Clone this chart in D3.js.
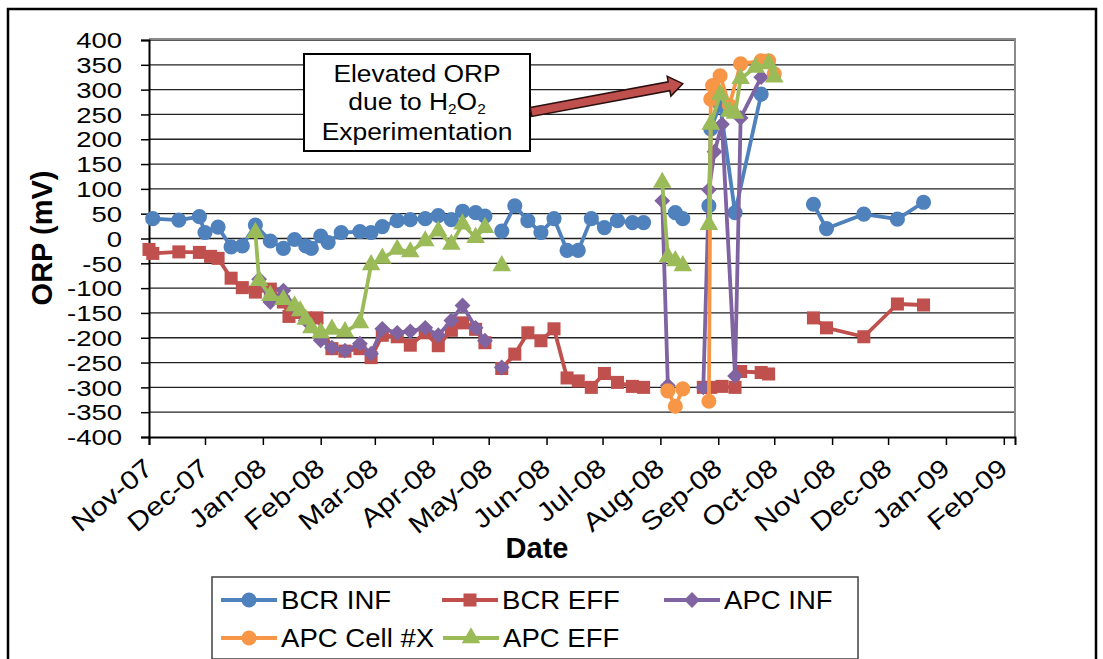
<!DOCTYPE html>
<html>
<head>
<meta charset="utf-8">
<script src="https://cdn.jsdelivr.net/npm/d3@7"></script>
<style>
  body { margin: 0; background: #fff; }
  svg { display: block; }
</style>
</head>
<body>
<svg id="chart" width="1103" height="659"></svg>
<script>
// ---- data ----------------------------------------------------------
const seriesNames  = ["BCR INF", "BCR EFF", "APC INF", "APC Cell #X", "APC EFF"];
const seriesColors = ["#4F81BD", "#C0504D", "#8064A2", "#F79646", "#9BBB59"];
const seriesShapes = ["circle", "square", "diamond", "circle", "triangle"];

const yTickValues = [-400, -350, -300, -250, -200, -150, -100, -50, 0, 50, 100, 150, 200, 250, 300, 350, 400];
const monthTicks = ["2007-11-01", "2007-12-01", "2008-01-01", "2008-02-01", "2008-03-01", "2008-04-01",
  "2008-05-01", "2008-06-01", "2008-07-01", "2008-08-01", "2008-09-01", "2008-10-01",
  "2008-11-01", "2008-12-01", "2009-01-01", "2009-02-01"];

// null entries are sampling dates with no reading (line breaks there)
const bcrInf = [
  ["2007-11-03", 40], ["2007-11-17", 37], ["2007-11-28", 44], ["2007-12-01", 12], ["2007-12-08", 23],
  ["2007-12-15", -17], ["2007-12-21", -15], ["2007-12-28", 27], ["2008-01-05", -5], ["2008-01-12", -20],
  ["2008-01-18", -2], ["2008-01-24", -15], ["2008-01-27", -20], ["2008-02-01", 5], ["2008-02-05", -8],
  ["2008-02-12", 12], ["2008-02-22", 14], ["2008-02-28", 12], ["2008-03-05", 24], ["2008-03-13", 36],
  ["2008-03-20", 38], ["2008-03-28", 40], ["2008-04-04", 46], ["2008-04-11", 38], ["2008-04-17", 55],
  ["2008-04-24", 52], ["2008-04-29", 45], ["2008-05-02", null], ["2008-05-08", 15], ["2008-05-15", 66],
  ["2008-05-22", 36], ["2008-05-29", 12], ["2008-06-05", 40], ["2008-06-12", -24], ["2008-06-18", -24],
  ["2008-06-25", 40], ["2008-07-02", 22], ["2008-07-09", 36], ["2008-07-17", 32], ["2008-07-23", 32],
  ["2008-08-02", null], ["2008-08-09", 52], ["2008-08-13", 40], ["2008-08-24", null], ["2008-08-27", 66],
  ["2008-08-28", 221], ["2008-09-02", 270], ["2008-09-10", 52], ["2008-09-24", 291], ["2008-10-01", null],
  ["2008-10-22", 69], ["2008-10-29", 20], ["2008-11-18", 49], ["2008-12-06", 39], ["2008-12-20", 73]
];

const bcrEff = [
  ["2007-11-01", -22], ["2007-11-03", -30], ["2007-11-17", -27], ["2007-11-28", -28], ["2007-12-04", -36],
  ["2007-12-08", -40], ["2007-12-15", -80], ["2007-12-21", -99], ["2007-12-28", -108], ["2008-01-05", -102],
  ["2008-01-12", -128], ["2008-01-15", -157], ["2008-01-24", -160], ["2008-01-30", -160], ["2008-02-07", -222],
  ["2008-02-14", -227], ["2008-02-22", -222], ["2008-02-28", -240], ["2008-03-05", -195], ["2008-03-13", -198],
  ["2008-03-20", -215], ["2008-03-28", -190], ["2008-04-04", -216], ["2008-04-11", -185], ["2008-04-17", -170],
  ["2008-04-24", -183], ["2008-04-29", -210], ["2008-05-02", null], ["2008-05-08", -262], ["2008-05-15", -233],
  ["2008-05-22", -190], ["2008-05-29", -206], ["2008-06-05", -182], ["2008-06-12", -281], ["2008-06-18", -287],
  ["2008-06-25", -300], ["2008-07-02", -272], ["2008-07-09", -290], ["2008-07-17", -298], ["2008-07-23", -300],
  ["2008-08-02", null], ["2008-08-24", -300], ["2008-08-28", -300], ["2008-09-03", -298], ["2008-09-10", -300],
  ["2008-09-13", -268], ["2008-09-24", -270], ["2008-09-28", -273], ["2008-10-01", null], ["2008-10-22", -160],
  ["2008-10-29", -180], ["2008-11-18", -198], ["2008-12-06", -132], ["2008-12-20", -134]
];

const apcInf = [
  ["2007-12-30", -82], ["2008-01-05", -128], ["2008-01-12", -105], ["2008-01-18", -138], ["2008-01-24", -165],
  ["2008-02-01", -205], ["2008-02-07", -220], ["2008-02-14", -226], ["2008-02-22", -212], ["2008-02-28", -232],
  ["2008-03-05", -182], ["2008-03-13", -190], ["2008-03-20", -187], ["2008-03-28", -180], ["2008-04-04", -195],
  ["2008-04-11", -165], ["2008-04-17", -135], ["2008-04-24", -180], ["2008-04-29", -206], ["2008-05-02", null],
  ["2008-05-08", -260], ["2008-05-15", null], ["2008-08-02", 76], ["2008-08-05", -296], ["2008-08-13", null],
  ["2008-08-24", -300], ["2008-08-27", 98], ["2008-08-30", 175], ["2008-09-03", 230], ["2008-09-10", -277],
  ["2008-09-13", 243], ["2008-09-24", 325]
];

const apcCell = [
  ["2008-08-05", -307], ["2008-08-09", -338], ["2008-08-13", -303], ["2008-08-24", null], ["2008-08-27", -328],
  ["2008-08-28", 281], ["2008-08-29", 308], ["2008-09-02", 328], ["2008-09-07", 268], ["2008-09-13", 352],
  ["2008-09-24", 358], ["2008-09-28", 358], ["2008-10-01", 332]
];

const apcEff = [
  ["2007-12-28", 12], ["2007-12-30", -85], ["2008-01-05", -115], ["2008-01-12", -123], ["2008-01-18", -136],
  ["2008-01-21", -146], ["2008-01-24", -163], ["2008-01-27", -180], ["2008-02-01", -190], ["2008-02-07", -183],
  ["2008-02-14", -188], ["2008-02-22", -170], ["2008-02-28", -53], ["2008-03-05", -40], ["2008-03-13", -22],
  ["2008-03-20", -27], ["2008-03-28", -5], ["2008-04-04", 15], ["2008-04-11", -12], ["2008-04-17", 29],
  ["2008-04-24", 2], ["2008-04-29", 22], ["2008-05-02", null], ["2008-05-08", -55], ["2008-05-15", null],
  ["2008-08-02", 113], ["2008-08-05", -37], ["2008-08-09", -45], ["2008-08-13", -55], ["2008-08-24", null],
  ["2008-08-27", 28], ["2008-08-28", 230], ["2008-09-02", 290], ["2008-09-07", 256], ["2008-09-10", 252],
  ["2008-09-13", 322], ["2008-09-21", 345], ["2008-09-28", 352], ["2008-10-01", 325]
];

const seriesData = [bcrInf, bcrEff, apcInf, apcCell, apcEff];

// ---- layout --------------------------------------------------------
const FONT = `"Liberation Sans", Arial, sans-serif`;
const parse = d3.timeParse("%Y-%m-%d");
const fmt = d3.timeFormat("%b-%y");
const svg = d3.select("#chart").attr("font-family", FONT);
const plot = { left: 149, right: 1015, top: 40, bottom: 437 };

const x = d3.scaleTime()
  .domain([parse("2007-11-01"), parse("2009-02-07")])
  .range([plot.left, plot.right]);
const y = d3.scaleLinear().domain([-400, 400]).range([plot.bottom, plot.top]);

// outer frame
svg.append("rect").attr("x", 8).attr("y", 9).attr("width", 1088).attr("height", 670)
  .attr("fill", "#fff").attr("stroke", "#000").attr("stroke-width", 2.5);

// horizontal gridlines
svg.append("g").selectAll("line").data(yTickValues.filter(v => v > -400)).join("line")
  .attr("x1", plot.left).attr("x2", plot.right)
  .attr("y1", d => y(d)).attr("y2", d => y(d))
  .attr("stroke", "#222").attr("stroke-width", 1.3);

// plot area border (top / right)
svg.append("path")
  .attr("d", `M${plot.left},${plot.top - 1}H${plot.right}V${plot.bottom}`)
  .attr("fill", "none").attr("stroke", "#8a8a8a").attr("stroke-width", 2);

// y axis
const yAxis = d3.axisLeft(y).tickValues(yTickValues).tickSize(8).tickFormat(d3.format("d"));
const gy = svg.append("g").attr("transform", `translate(${plot.left},0)`).call(yAxis)
  .attr("font-family", FONT);
gy.select(".domain").attr("stroke", "#000").attr("stroke-width", 2);
gy.selectAll(".tick line").attr("stroke", "#000").attr("stroke-width", 1.5);
gy.selectAll(".tick text").remove();
gy.selectAll(".tick").append("text")
  .attr("fill", "#000")
  .attr("text-anchor", "end").attr("dy", "0.35em")
  .attr("transform", "translate(-27,0) scale(1.25,1)")
  .attr("font-size", 22)
  .text(d => d);

// x axis
const monthDates = monthTicks.map(parse);
const xAxis = d3.axisBottom(x).tickValues(monthDates).tickSize(8).tickFormat("");
const gx = svg.append("g").attr("transform", `translate(0,${plot.bottom})`).call(xAxis)
  .attr("font-family", FONT);
gx.select(".domain").attr("stroke", "#000").attr("stroke-width", 2);
gx.selectAll(".tick line").attr("stroke", "#000").attr("stroke-width", 1.5);
gx.selectAll(".tick").append("text")
  .attr("fill", "#000")
  .attr("text-anchor", "end")
  .attr("transform", "translate(5,34) rotate(-40) scale(1.15,1)")
  .attr("font-size", 26)
  .text(d => fmt(d));

// axis titles
svg.append("text").attr("x", 537).attr("y", 558).attr("text-anchor", "middle")
  .attr("font-size", 29).attr("font-weight", "bold").text("Date");
svg.append("text").attr("transform", "translate(52,238) rotate(-90)").attr("text-anchor", "middle")
  .attr("font-size", 29).attr("font-weight", "bold").text("ORP (mV)");

// ---- series --------------------------------------------------------
function markerPath(shape) {
  if (shape === "circle") return d3.symbol(d3.symbolCircle, 180)();
  if (shape === "square") return d3.symbol(d3.symbolSquare, 170)();
  if (shape === "diamond") return d3.symbol(d3.symbolSquare, 125)();
  return d3.symbol(d3.symbolTriangle, 150)();
}
function markerTransform(shape, px, py) {
  return shape === "diamond" ? `translate(${px},${py}) rotate(45)` : `translate(${px},${py})`;
}

const line = d3.line()
  .defined(d => d[1] !== null)
  .x(d => x(parse(d[0])))
  .y(d => y(d[1]));

seriesData.forEach((data, i) => {
  const g = svg.append("g");
  g.append("path").datum(data).attr("d", line)
    .attr("fill", "none").attr("stroke", seriesColors[i]).attr("stroke-width", 3.8)
    .attr("stroke-linejoin", "round");
  g.selectAll("path.m").data(data.filter(d => d[1] !== null)).join("path")
    .attr("class", "m")
    .attr("d", markerPath(seriesShapes[i]))
    .attr("transform", d => markerTransform(seriesShapes[i], x(parse(d[0])), y(d[1])))
    .attr("fill", seriesColors[i]);
});

// ---- annotation ----------------------------------------------------
const box = { x: 304, y: 54, w: 226, h: 97 };
const note = svg.append("g");
note.append("rect").attr("x", box.x).attr("y", box.y).attr("width", box.w).attr("height", box.h)
  .attr("fill", "#fff").attr("stroke", "#000").attr("stroke-width", 2);
const cx = box.x + box.w / 2;
note.append("text").attr("text-anchor", "middle").attr("font-size", 24)
  .attr("transform", `translate(${cx},82) scale(1.1,1)`).text("Elevated ORP");
const t2 = note.append("text").attr("text-anchor", "middle").attr("font-size", 24)
  .attr("transform", `translate(${cx},110) scale(1.1,1)`);
t2.append("tspan").text("due to H");
t2.append("tspan").attr("font-size", 14).attr("dy", 4).text("2");
t2.append("tspan").attr("dy", -4).text("O");
t2.append("tspan").attr("font-size", 14).attr("dy", 4).text("2");
note.append("text").attr("text-anchor", "middle").attr("font-size", 24)
  .attr("transform", `translate(${cx},140) scale(1.1,1)`).text("Experimentation");

// block arrow pointing at the H2O2 readings
(function () {
  const x0 = box.x + box.w + 1, y0 = 112;
  const x1 = x(parse("2008-08-13")), y1 = y(312);
  const ang = Math.atan2(y1 - y0, x1 - x0);
  const len = Math.hypot(x1 - x0, y1 - y0);
  const sw = 4.5, hw = 10, hl = 14;
  const pts = [[0, -sw], [len - hl, -sw], [len - hl, -hw], [len, 0], [len - hl, hw], [len - hl, sw], [0, sw]];
  svg.append("polygon")
    .attr("points", pts.map(p => p.join(",")).join(" "))
    .attr("transform", `translate(${x0},${y0}) rotate(${ang * 180 / Math.PI})`)
    .attr("fill", "#C0504D").attr("stroke", "#2b1010").attr("stroke-width", 1.5);
})();

// ---- legend --------------------------------------------------------
const legend = svg.append("g");
legend.append("rect").attr("x", 212).attr("y", 577).attr("width", 646).attr("height", 82)
  .attr("fill", "#fff").attr("stroke", "#404040").attr("stroke-width", 1.5);
const legendPos = [[221, 600], [442, 600], [664, 600], [221, 638], [443, 638]];
seriesNames.forEach((name, i) => {
  const [lx, ly] = legendPos[i];
  const g = legend.append("g");
  g.append("line").attr("x1", lx).attr("x2", lx + 56).attr("y1", ly).attr("y2", ly)
    .attr("stroke", seriesColors[i]).attr("stroke-width", 3.8);
  g.append("path").attr("d", markerPath(seriesShapes[i]))
    .attr("transform", markerTransform(seriesShapes[i], lx + 28, ly))
    .attr("fill", seriesColors[i]);
  g.append("text").attr("font-size", 26)
    .attr("transform", `translate(${lx + 60},${ly + 9}) scale(1.06,1)`).text(name);
});
</script>
</body>
</html>
